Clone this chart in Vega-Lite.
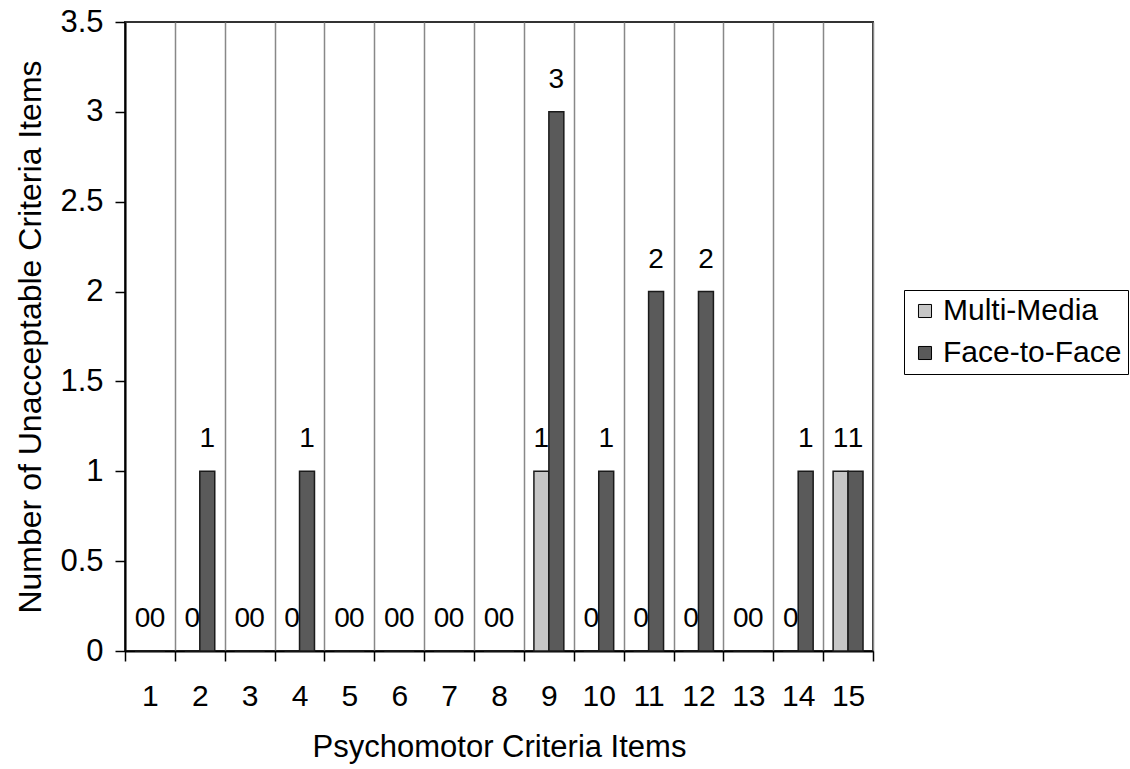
{
  "$schema": "https://vega.github.io/schema/vega-lite/v6.json",
  "width": 748,
  "height": 629,
  "autosize": {"type": "none"},
  "padding": {"left": 125, "top": 22, "right": 257, "bottom": 118},
  "background": "white",
  "config": {
    "font": "Liberation Sans",
    "view": {"stroke": "#333333", "strokeWidth": 2}
  },
  "data": {
    "values": [
      {"item": "1", "group": "Multi-Media", "value": 0},
      {"item": "1", "group": "Face-to-Face", "value": 0},
      {"item": "2", "group": "Multi-Media", "value": 0},
      {"item": "2", "group": "Face-to-Face", "value": 1},
      {"item": "3", "group": "Multi-Media", "value": 0},
      {"item": "3", "group": "Face-to-Face", "value": 0},
      {"item": "4", "group": "Multi-Media", "value": 0},
      {"item": "4", "group": "Face-to-Face", "value": 1},
      {"item": "5", "group": "Multi-Media", "value": 0},
      {"item": "5", "group": "Face-to-Face", "value": 0},
      {"item": "6", "group": "Multi-Media", "value": 0},
      {"item": "6", "group": "Face-to-Face", "value": 0},
      {"item": "7", "group": "Multi-Media", "value": 0},
      {"item": "7", "group": "Face-to-Face", "value": 0},
      {"item": "8", "group": "Multi-Media", "value": 0},
      {"item": "8", "group": "Face-to-Face", "value": 0},
      {"item": "9", "group": "Multi-Media", "value": 1},
      {"item": "9", "group": "Face-to-Face", "value": 3},
      {"item": "10", "group": "Multi-Media", "value": 0},
      {"item": "10", "group": "Face-to-Face", "value": 1},
      {"item": "11", "group": "Multi-Media", "value": 0},
      {"item": "11", "group": "Face-to-Face", "value": 2},
      {"item": "12", "group": "Multi-Media", "value": 0},
      {"item": "12", "group": "Face-to-Face", "value": 2},
      {"item": "13", "group": "Multi-Media", "value": 0},
      {"item": "13", "group": "Face-to-Face", "value": 0},
      {"item": "14", "group": "Multi-Media", "value": 0},
      {"item": "14", "group": "Face-to-Face", "value": 1},
      {"item": "15", "group": "Multi-Media", "value": 1},
      {"item": "15", "group": "Face-to-Face", "value": 1}
    ]
  },
  "encoding": {
    "x": {
      "field": "item",
      "type": "ordinal",
      "sort": null,
      "scale": {"paddingInner": 0, "paddingOuter": 0},
      "axis": {
        "title": "Psychomotor Criteria Items",
        "titleFontSize": 31,
        "titleFontWeight": "normal",
        "titleColor": "black",
        "titlePadding": 21,
        "labelAngle": 0,
        "labelFontSize": 30,
        "labelColor": "black",
        "labelPadding": 20,
        "tickBand": "extent",
        "ticks": true,
        "tickSize": 10,
        "tickColor": "black",
        "tickWidth": 1.5,
        "grid": true,
        "gridColor": "#888888",
        "gridWidth": 1.5,
        "domainColor": "black",
        "domainWidth": 2
      }
    },
    "xOffset": {
      "field": "group",
      "sort": ["Multi-Media", "Face-to-Face"],
      "scale": {"paddingInner": 0, "paddingOuter": 0.667}
    },
    "y": {
      "field": "value",
      "type": "quantitative",
      "scale": {"domain": [0, 3.5]},
      "axis": {
        "title": "Number of Unacceptable Criteria Items",
        "titleFontSize": 32,
        "titleFontWeight": "normal",
        "titleColor": "black",
        "titlePadding": 12,
        "values": [0, 0.5, 1, 1.5, 2, 2.5, 3, 3.5],
        "format": "~g",
        "labelFontSize": 31,
        "labelColor": "black",
        "labelPadding": 12,
        "tickSize": 10,
        "tickColor": "black",
        "tickWidth": 1.5,
        "grid": false,
        "domainColor": "black",
        "domainWidth": 2
      }
    }
  },
  "layer": [
    {
      "mark": {"type": "bar", "stroke": "#1a1a1a", "strokeWidth": 1.5},
      "encoding": {
        "color": {
          "field": "group",
          "type": "nominal",
          "sort": ["Multi-Media", "Face-to-Face"],
          "scale": {"domain": ["Multi-Media", "Face-to-Face"], "range": ["#c6c6c6", "#5a5a5a"]},
          "legend": {
            "title": null,
            "orient": "none",
            "legendX": 779,
            "legendY": 268,
            "strokeColor": "black",
            "fillColor": "white",
            "padding": 6,
            "labelFontSize": 30,
            "labelColor": "black",
            "labelLimit": 400,
            "symbolType": "square",
            "symbolSize": 170,
            "symbolStrokeColor": "black",
            "symbolStrokeWidth": 1,
            "rowPadding": 12,
            "labelOffset": 3
          }
        }
      }
    },
    {
      "mark": {"type": "text", "fontSize": 28, "color": "black", "baseline": "alphabetic", "dy": -24},
      "encoding": {
        "text": {"field": "value", "type": "quantitative"}
      }
    }
  ]
}
